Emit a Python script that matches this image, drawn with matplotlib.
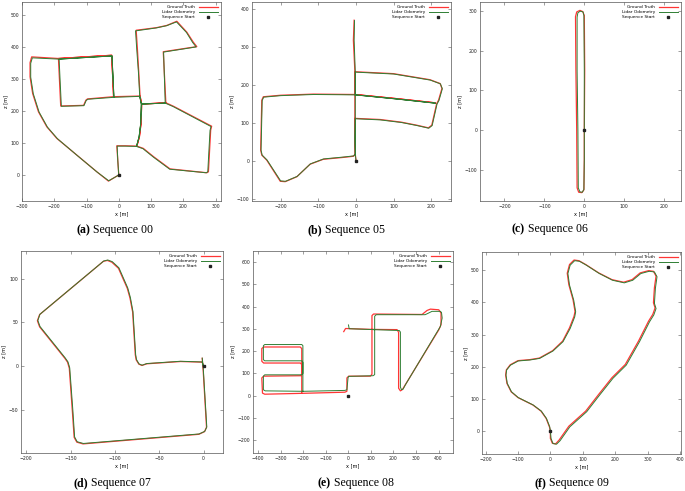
import numpy as np
import matplotlib
matplotlib.use('Agg')
import matplotlib.pyplot as plt

# trajectories, (x, z) in metres
seq00_gt = [(0, 0), (-3, 45), (-6, 91), (20, 91), (56, 90), (64, 119), (69, 160), (71, 221), (66, 246),
            (62, 320), (58, 389), (54, 451), (117, 459), (149, 466), (180, 479), (211, 445), (231, 414),
            (242, 400), (138, 384), (146, 225), (170, 214), (288, 152), (285, 140), (278, 10), (273, 7),
            (159, 19), (108, 57), (76, 83), (56, 90), (64, 119), (69, 160), (71, 221), (146, 225), (71, 221),
            (66, 246), (-16, 244), (-19, 310), (-22, 373), (-187, 363), (-180, 215), (-109, 217), (-102, 233),
            (-97, 237), (-16, 244), (-19, 310), (-22, 373), (-187, 363), (-270, 368), (-275, 350), (-275, 306),
            (-267, 254), (-249, 197), (-223, 150), (-192, 114), (-130, 62), (-68, 10), (-32, -19), (0, 0)]
seq00_odo = [(0, 0), (-3, 45), (-5, 90), (20, 90), (55, 89), (63, 119), (68, 160), (70, 221), (65, 245),
             (61, 320), (56, 388), (52, 449), (115, 458), (148, 465), (179, 477), (210, 444), (229, 413),
             (240, 399), (139, 383), (144, 224), (169, 213), (286, 151), (283, 139), (276, 10), (271, 7),
             (158, 18), (107, 56), (75, 82), (55, 89), (63, 119), (68, 160), (70, 221), (144, 224), (70, 221),
             (65, 245), (-15, 242), (-18, 309), (-21, 371), (-185, 361), (-178, 214), (-108, 216), (-101, 232),
             (-96, 236), (-15, 242), (-18, 309), (-21, 371), (-185, 361), (-268, 365), (-273, 348), (-273, 305),
             (-265, 253), (-247, 196), (-221, 149), (-190, 113), (-129, 61), (-67, 9), (-31, -18), (0, 0)]

seq05_gt = [(0, 0), (-2, 18), (-3, 60), (-3, 112), (64, 109), (120, 102), (161, 94), (192, 87), (201, 94),
            (214, 151), (219, 160), (228, 191), (223, 204), (196, 214), (99, 230), (-3, 235), (-3, 175),
            (108, 164), (210, 153), (108, 164), (-3, 175), (-113, 176), (-200, 173), (-246, 169), (-250, 160),
            (-253, 28), (-250, 15), (-237, 2), (-201, -54), (-188, -55), (-157, -42), (-122, -9), (-87, 4),
            (-34, 9), (-7, 12), (-2, 18), (-3, 112), (-3, 175), (-3, 235), (-7, 318), (-5, 371)]
seq05_odo = [(0, 0), (-2, 18), (-3, 60), (-2, 111), (64, 108), (121, 101), (162, 93), (193, 86), (202, 93),
             (215, 150), (220, 159), (229, 190), (224, 203), (197, 213), (100, 229), (-2, 234), (-2, 174),
             (109, 163), (211, 152), (109, 163), (-2, 174), (-112, 175), (-199, 172), (-245, 168), (-249, 159),
             (-252, 28), (-249, 15), (-236, 2), (-200, -53), (-187, -54), (-156, -41), (-121, -8), (-86, 5),
             (-33, 10), (-6, 13), (-2, 18), (-2, 111), (-2, 174), (-2, 234), (-5, 318), (-4, 370)]

seq06_gt = [(0, 0), (1, 150), (0, 288), (-4, 298), (-11, 301), (-19, 297), (-22, 285), (-21, 150), (-19, 0),
            (-18, -145), (-14, -156), (-6, -157), (-1, -150), (0, -75), (0, 0)]
seq06_odo = [(0, 0), (0, 150), (-1, 288), (-3, 297), (-10, 299), (-16, 295), (-18, 284), (-18, 150), (-16, 0),
             (-15, -145), (-11, -155), (-5, -156), (-1, -149), (0, -75), (0, 0)]

seq07_gt = [(0, 0), (-1.5, 4.6), (-26, 5.3), (-64, 2.7), (-69.5, 0.8), (-73, 2.3), (-76, 7.2), (-77, 13),
            (-80, 62), (-83, 78), (-86, 89), (-96, 112), (-103.5, 119), (-108.5, 121), (-113, 120),
            (-185, 59), (-187.5, 52), (-185, 45), (-156.5, 9), (-153.5, 4.6), (-151.5, -2.3), (-148, -52),
            (-146, -81.5), (-143, -87), (-136, -89), (-5.3, -78), (1.1, -75), (3.4, -70), (-0.4, -4.2),
            (-1.5, 9)]
seq07_odo = [(0, 0), (-1.5, 4.8), (-26, 5.6), (-64, 3.0), (-69.3, 1.1), (-72.8, 2.6), (-75.6, 7.5), (-76.6, 13.3),
             (-79.6, 62.3), (-82.5, 78.4), (-85.5, 89.5), (-95.5, 112.6), (-103, 119.6), (-108, 121.5),
             (-112.6, 120.4), (-184.6, 59.4), (-187, 52.3), (-184.5, 45.3), (-156, 9.3), (-153, 4.9),
             (-151, -2), (-147.4, -51.6), (-145.5, -81), (-142.6, -86.5), (-135.6, -88.5), (-5, -77.6),
             (1.4, -74.6), (3.7, -69.6), (-0.2, -4), (-1.4, 9.2)]

seq08_gt = [(-20, 288), (-12, 302), (105, 298), (216, 297), (223, 285), (223, 34), (231, 22), (240, 28),
            (250, 45), (401, 296), (411, 319), (411, 371), (401, 386), (364, 389), (349, 383), (327, 365),
            (112, 367), (105, 360), (105, 97), (98, 88), (2, 88), (-6, 80), (-6, 20), (-15, 16), (-200, 11),
            (-370, 7), (-380, 12), (-383, 80), (-375, 88), (-210, 90), (-206, 100), (-206, 140), (-212, 147),
            (-375, 147), (-383, 155), (-383, 212), (-375, 219), (-213, 219), (-206, 212), (-206, 11)]
seq08_odo = [(1, 318), (4, 301), (112, 297), (226, 293), (231, 286), (231, 39), (236, 27), (243, 30),
             (253, 49), (408, 311), (416, 349), (413, 374), (408, 379), (371, 379), (349, 368), (340, 364),
             (124, 364), (117, 357), (117, 95), (110, 90), (1, 87), (-1, 80), (-6, 27), (-15, 24), (-200, 20),
             (-368, 22), (-376, 27), (-376, 88), (-370, 94), (-206, 94), (-201, 100), (-201, 150), (-206, 157),
             (-370, 157), (-376, 162), (-376, 225), (-370, 230), (-206, 230), (-201, 225), (-201, 20)]

seq09_gt = [(0, 0), (-3, 13), (-13, 39), (-29, 62), (-54, 81), (-100, 104), (-121, 122), (-134, 148),
            (-138, 174), (-136, 190), (-124, 206), (-100, 219), (-64, 222), (-34, 227), (7, 250), (38, 280),
            (59, 321), (73, 357), (76, 372), (70, 408), (57, 455), (52, 491), (59, 518), (73, 532), (88, 530),
            (109, 518), (149, 492), (190, 471), (226, 463), (252, 471), (277, 492), (303, 499), (318, 497),
            (326, 482), (321, 446), (318, 399), (323, 383), (316, 363), (303, 342), (272, 280), (231, 207),
            (190, 166), (149, 114), (109, 62), (57, 15), (27, -28), (16, -40), (6, -38), (0, -23), (0, 0)]
seq09_odo = [(0, 0), (-2, 13), (-12, 39), (-28, 62), (-53, 81), (-99, 104), (-120, 122), (-133, 148),
             (-137, 174), (-135, 190), (-123, 205), (-99, 218), (-63, 221), (-33, 226), (8, 249), (39, 278),
             (61, 319), (75, 355), (78, 371), (72, 407), (59, 454), (54, 490), (61, 516), (75, 530), (90, 528),
             (111, 516), (151, 490), (192, 469), (228, 461), (254, 469), (279, 490), (305, 497), (321, 495),
             (329, 480), (324, 444), (321, 397), (326, 381), (319, 361), (306, 340), (275, 278), (234, 205),
             (193, 164), (152, 112), (112, 60), (60, 13), (30, -30), (19, -41), (8, -39), (2, -23), (0, 0)]

panels = [
    ('(a)', 'Sequence 00', seq00_gt, seq00_odo),
    ('(b)', 'Sequence 05', seq05_gt, seq05_odo),
    ('(c)', 'Sequence 06', seq06_gt, seq06_odo),
    ('(d)', 'Sequence 07', seq07_gt, seq07_odo),
    ('(e)', 'Sequence 08', seq08_gt, seq08_odo),
    ('(f)', 'Sequence 09', seq09_gt, seq09_odo),
]

# layout in pixels: left, right, top, bottom
boxes = [(22, 221, 2, 201), (252, 451, 2, 201), (480, 681, 2, 201),
         (21, 223, 251, 453), (253, 453, 251, 453), (482, 681, 252, 454)]
limits = [((-300, 317), (-81, 539)), ((-276, 252), (-106, 419)), ((-261, 242), (-178, 322)),
          ((-206, 22), (-99.4, 131.8)), ((-422, 464), (-257, 650)), ((-211, 403), (-71.5, 557))]
xticks = [range(-300, 301, 100), range(-200, 201, 100), range(-200, 201, 100),
          range(-200, 1, 50), range(-400, 401, 100), range(-200, 401, 100)]
yticks = [range(0, 501, 100), range(-100, 401, 100), range(-100, 301, 100),
          range(-50, 101, 50), range(-200, 601, 100), range(0, 501, 100)]
captions = [(90.5, 230), (322, 230), (525, 229), (88.5, 483), (331, 483), (546, 483)]

W, H = 685, 491
fig = plt.figure(figsize=(W / 100, H / 100), dpi=100)

for i, (tag, name, gt, odo) in enumerate(panels):
    l, r, t, b = boxes[i]
    ax = fig.add_axes([l / W, 1 - b / H, (r - l) / W, (b - t) / H])
    gt = np.array(gt)
    odo = np.array(odo)
    ax.plot(gt[:, 0], gt[:, 1], color='#ff3535', lw=0.9, label='Ground Truth')
    ax.plot(odo[:, 0], odo[:, 1], color='#2f7f33', lw=0.7, label='Lidar Odometry')
    ax.plot([0], [0], ls='none', marker='s', ms=1.6, color='#222222', label='Sequence Start')
    ax.set_xlim(limits[i][0])
    ax.set_ylim(limits[i][1])
    ax.set_xticks(list(xticks[i]))
    ax.set_yticks(list(yticks[i]))
    ax.tick_params(direction='in', length=2.5, width=0.4, labelsize=3.3, pad=2,
                   top=True, right=True, color='#555555', labelcolor='#222222')
    for s in ax.spines.values():
        s.set_linewidth(0.5)
        s.set_color('#555555')
    ax.set_xlabel('x [m]', fontsize=3.6, labelpad=1.5)
    ax.set_ylabel('z [m]', fontsize=3.6, labelpad=1.5)
    ax.legend(loc='upper right', markerfirst=False, frameon=False, fontsize=3.1,
              handlelength=4.5, labelspacing=0.25, borderaxespad=0.3, handletextpad=0.8)
    cx, cy = captions[i]
    fig.text(cx / W, 1 - cy / H, tag, ha='right', va='center', weight='bold',
             family='Liberation Serif', fontsize=8.5)
    fig.text((cx + 3) / W, 1 - cy / H, name, ha='left', va='center',
             family='Liberation Serif', fontsize=8.5)

fig.savefig('out.png', dpi=100)
